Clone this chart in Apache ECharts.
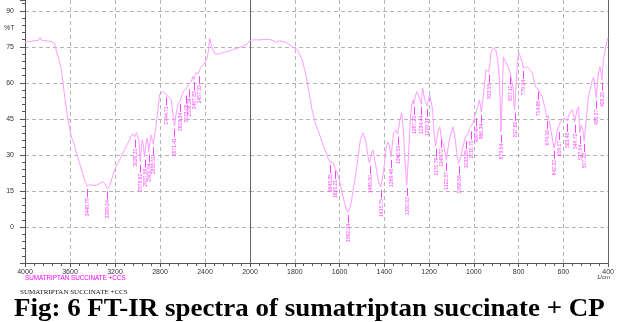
<!DOCTYPE html>
<html>
<head>
<meta charset="utf-8">
<script src="https://cdn.jsdelivr.net/npm/echarts@6/dist/echarts.min.js"></script>
<style>
  html, body { margin: 0; padding: 0; background: #fff; }
  #chart { width: 617px; height: 322px; }
</style>
</head>
<body>
<div id="chart"></div>
<script>
// FT-IR spectrum, [wavenumber (1/cm), %T]; 4000-2000 drawn at half the scale of 2000-400
const highRegion = [
  [4000,77.0],[3985,77.4],[3970,77.1],[3955,77.8],[3940,77.3],[3925,78.1],[3910,77.6],[3895,78.2],
  [3880,77.7],[3865,78.9],[3855,77.8],[3845,78.5],[3830,77.6],[3815,78.1],[3800,77.4],[3785,77.9],
  [3770,77.2],[3755,77.5],[3740,76.6],[3710,71.5],[3678,66.0],[3649,55.0],[3620,45.0],[3589,37.6],
  [3560,34.0],[3545,31.0],[3516,26.7],[3471,19.6],[3446.79,17.0],[3427,17.6],[3400,17.4],[3367,17.3],
  [3330,18.3],[3308,18.9],[3290,18.0],[3269.24,16.1],[3249,16.8],[3204,23.8],[3145,29.3],[3086,34.9],
  [3045,38.8],[3026.31,37.6],[3010,39.3],[2995,38.5],[2988,36.3],[2975.62,27.2],[2965,33.0],[2958,36.3],
  [2948,34.0],[2937.59,29.3],[2928,33.0],[2917,37.0],[2908,35.0],[2900.94,31.4],[2890,35.0],[2878,38.3],
  [2868,36.0],[2858.51,34.5],[2848,38.0],[2840,40.4],[2820,48.0],[2804,55.0],[2775,56.4],[2760,56.0],
  [2744.71,55.2],[2730,55.8],[2700,52.9],[2690,49.0],[2671.41,42.0],[2656,47.4],[2640,51.0],[2619.34,52.5],
  [2605,55.0],[2590,56.6],[2573.06,56.0],[2560,58.0],[2550,59.2],[2538.34,58.5],[2523,60.5],[2507,62.6],
  [2497.83,61.5],[2485,64.0],[2470,64.5],[2457.33,64.0],[2440,66.3],[2404,68.2],[2380,70.5],[2368,74.0],
  [2360,78.6],[2352,77.5],[2345,75.8],[2330,73.8],[2310,72.0],[2300,71.7],[2275,72.0],[2256,72.4],
  [2200,73.0],[2153,73.8],[2100,74.6],[2034,75.8],[2000,77.6]
];

const lowRegion = [
  [2000,77.6],[1990,77.9],[1958,77.9],[1930,78.1],[1905,77.9],[1882,76.8],[1869,77.6],[1855,77.2],
  [1838,76.8],[1812,75.1],[1789,73.8],[1767,69.6],[1750,63.3],[1736,55.8],[1723,48.8],[1706,42.5],
  [1692,39.2],[1670,33.3],[1652,28.8],[1643.35,27.0],[1637,27.6],[1630,26.9],[1620.21,24.6],[1612,25.0],
  [1603,20.4],[1581,11.3],[1570,7.5],[1562.34,6.2],[1554,7.8],[1546,11.3],[1523,25.0],[1507,36.3],
  [1495,39.2],[1484,36.3],[1470,27.9],[1465.90,26.6],[1457,30.8],[1451,32.1],[1440,26.7],[1426,18.8],
  [1415.75,16.7],[1404,22.5],[1393,32.1],[1385,35.4],[1378,34.2],[1369.46,29.2],[1359,39.2],[1349,40.4],
  [1340.53,38.7],[1330,44.6],[1322,47.5],[1315,40.4],[1308,27.9],[1300.02,17.5],[1293,27.9],[1285,42.5],
  [1278,50.8],[1271,52.9],[1267.23,51.2],[1260,55.0],[1253,56.3],[1241,52.9],[1234.44,51.2],[1229,57.9],
  [1219,52.9],[1209.37,50.4],[1197,55.0],[1190,54.2],[1184,48.8],[1178,39.2],[1170.79,33.8],[1160,39.6],
  [1152,41.7],[1145.72,37.5],[1133,33.3],[1122.57,27.9],[1112,35.0],[1101,39.6],[1093,41.7],[1083,36.3],
  [1074,29.2],[1068.56,26.5],[1057,29.2],[1049,33.3],[1041,36.3],[1038,37.3],[1033.85,37.0],[1029,38.5],
  [1024,39.6],[1016,41.5],[1010.70,41.0],[1005,43.0],[1000,44.6],[994,46.8],[989.48,46.5],[983,50.0],
  [975,52.9],[966.34,47.9],[960,53.0],[953,58.3],[946,65.4],[938,66.2],[933.55,64.6],[928,68.0],
  [924,72.5],[912,74.6],[902,73.8],[894,69.6],[886,62.5],[881,48.8],[879.54,39.6],[875,48.8],
  [868,70.8],[860,71.3],[847,66.7],[837.11,63.8],[831,64.6],[825,58.0],[820,50.0],[817.82,48.8],
  [810,61.3],[805,69.6],[798,72.5],[783,68.3],[779.24,66.2],[770,66.5],[761,66.7],[750,65.5],
  [739,64.2],[724,58.3],[714.66,57.5],[708,57.9],[695,54.2],[680,48.8],[674.16,45.4],[668,46.3],
  [658,41.7],[650,37.1],[642.32,32.9],[635,35.5],[630,38.7],[624,41.2],[619.17,40.8],[613,43.8],
  [598,45.4],[590,45.0],[583.48,44.2],[576,46.7],[561.5,48.8],[555,47.0],[549.72,43.8],[544,46.5],
  [539,48.8],[532,50.0],[527.54,39.2],[520,42.5],[513,40.0],[507.28,35.8],[498,44.6],[488,54.2],
  [473,60.4],[465,62.5],[458,63.3],[453.27,53.8],[447,60.5],[443,64.6],[436,66.7],[432,64.0],
  [428.20,61.3],[421,69.6],[411,75.0],[405,77.5],[400,78.8]
];

// Picked peaks: [wavenumber, %T at the band minimum]
const highPeaks = [
  [3446.79,17.0],[3269.24,16.1],[3026.31,37.6],[2975.62,27.2],[2937.59,29.3],[2900.94,31.4],
  [2858.51,34.5],[2744.71,55.2],[2671.41,42.0],[2619.34,52.5],[2573.06,56.0],[2538.34,58.5],
  [2497.83,61.5],[2457.33,64.0]
];
const lowPeaks = [
  [1643.35,27.0],[1620.21,24.6],[1562.34,6.2],[1465.90,26.6],[1415.75,16.7],[1369.46,29.2],
  [1340.53,38.7],[1300.02,17.5],[1267.23,51.2],[1234.44,51.2],[1209.37,50.4],[1170.79,33.8],
  [1145.72,37.5],[1122.57,27.9],[1068.56,26.5],[1033.85,37.0],[1010.70,41.0],[989.48,46.5],
  [966.34,47.9],[933.55,64.6],[879.54,39.6],[837.11,63.8],[817.82,48.8],[779.24,66.2],
  [714.66,57.5],[674.16,45.4],[642.32,32.9],[619.17,40.8],[583.48,44.2],[549.72,43.8],
  [527.54,39.2],[507.28,35.8],[453.27,53.8],[428.20,61.3]
];

// Axis ranges and tick steps
const highAxis = { min: 2000, max: 4000, step: 400 };
const lowAxis = { min: 400, max: 2000, step: 200 };
const tAxis = { min: -15, max: 94.5, step: 15 };

const sans = 'Liberation Sans, Arial, sans-serif';
const serif = 'Liberation Serif, Times New Roman, serif';
const axisColor = '#555';
const gridDash = { color: '#b4b4b4', type: [4, 3], width: 1 };
const spectrumColor = '#ff9dff';
const peakColor = '#ff40ff';

function xAxisFor(gridIndex, range, hideMaxLabel) {
  return {
    gridIndex, type: 'value', inverse: true,
    min: range.min, max: range.max, interval: range.step,
    axisLine: { show: true, onZero: false, lineStyle: { color: axisColor, width: 1 } },
    axisTick: { show: true, length: 4, lineStyle: { color: axisColor } },
    minorTick: { show: true, splitNumber: 5, length: 3, lineStyle: { color: axisColor } },
    axisLabel: {
      fontFamily: sans, fontSize: 7, color: '#333', margin: 6,
      formatter: v => (hideMaxLabel && v === range.max) ? '' : String(v)
    },
    splitLine: { show: true, showMinLine: false, showMaxLine: false, lineStyle: gridDash }
  };
}

function tAxisFor(gridIndex, opts) {
  return Object.assign({
    gridIndex, type: 'value',
    min: tAxis.min, max: tAxis.max, interval: tAxis.step,
    axisLine: { show: true, onZero: false, lineStyle: { color: axisColor, width: 1 } },
    axisTick: { show: false },
    axisLabel: { show: false },
    splitLine: { show: false }
  }, opts);
}

function peakLabels(xAxisIndex, yAxisIndex, peaks) {
  return {
    type: 'custom', xAxisIndex, yAxisIndex, silent: true, z: 4,
    data: peaks,
    renderItem(params, api) {
      const p = api.coord([api.value(0), api.value(1)]);
      const x = Math.round(p[0]) + 0.5;
      const y0 = p[1] + 3;
      const y1 = y0 + 8;
      return {
        type: 'group',
        children: [
          { type: 'line', shape: { x1: x, y1: y0, x2: x, y2: y1 },
            style: { stroke: peakColor, lineWidth: 1 } },
          { type: 'text', x: x, y: y1 + 1, rotation: Math.PI / 2,
            style: { text: api.value(0).toFixed(2), fill: peakColor,
                     font: '5px ' + sans, align: 'right', verticalAlign: 'middle' } }
        ]
      };
    }
  };
}

const chart = echarts.init(document.getElementById('chart'), null, { renderer: 'canvas' });

chart.setOption({
  animation: false,
  backgroundColor: '#fff',
  grid: [
    { left: 25, top: 0, width: 225, height: 263 },
    { left: 250, top: 0, width: 361, height: 263 }
  ],
  xAxis: [
    xAxisFor(0, highAxis, false),
    xAxisFor(1, lowAxis, true)
  ],
  yAxis: [
    tAxisFor(0, {
      position: 'left',
      axisTick: { show: true, length: 5, lineStyle: { color: axisColor } },
      minorTick: { show: true, splitNumber: 5, length: 3, lineStyle: { color: axisColor } },
      axisLabel: {
        show: true, fontFamily: sans, fontSize: 7, color: '#333', margin: 11,
        formatter: v => (v >= 0 && v % tAxis.step === 0) ? String(v) : ''
      },
      splitLine: { show: true, showMinLine: false, showMaxLine: false, lineStyle: gridDash }
    }),
    tAxisFor(1, {
      position: 'left',
      axisLine: { show: true, onZero: false, lineStyle: { color: '#666', width: 1 } },
      splitLine: { show: true, showMinLine: false, showMaxLine: false, lineStyle: gridDash }
    }),
    tAxisFor(1, {
      position: 'right',
      axisLine: { show: true, onZero: false, lineStyle: { color: '#666', width: 1 } }
    })
  ],
  series: [
    { type: 'line', xAxisIndex: 0, yAxisIndex: 0, data: highRegion, showSymbol: false,
      silent: true, z: 3, lineStyle: { color: spectrumColor, width: 1 } },
    { type: 'line', xAxisIndex: 1, yAxisIndex: 1, data: lowRegion, showSymbol: false,
      silent: true, z: 3, lineStyle: { color: spectrumColor, width: 1 } },
    peakLabels(0, 0, highPeaks),
    peakLabels(1, 1, lowPeaks)
  ],
  graphic: [
    { type: 'text', left: 4, top: 25,
      style: { text: '%T', font: '7px ' + sans, fill: '#333' } },
    { type: 'text', left: 597, top: 274,
      style: { text: '1/cm', font: '6px ' + sans, fill: '#333' } },
    { type: 'text', left: 25, top: 275,
      style: { text: 'SUMATRIPTAN SUCCINATE +CCS', font: '6.3px ' + sans, fill: '#ff00ff' } },
    { type: 'text', left: 20, top: 289,
      style: { text: 'SUMATRIPTAN SUCCINATE +CCS', font: '7px ' + serif, fill: '#111' } },
    { type: 'text', x: 14, y: 297, scaleX: 1.1,
      style: { text: 'Fig: 6 FT-IR spectra of sumatriptan succinate + CP',
               font: 'bold 24.5px ' + serif, fill: '#000', align: 'left', verticalAlign: 'top' } }
  ]
});
</script>
</body>
</html>
